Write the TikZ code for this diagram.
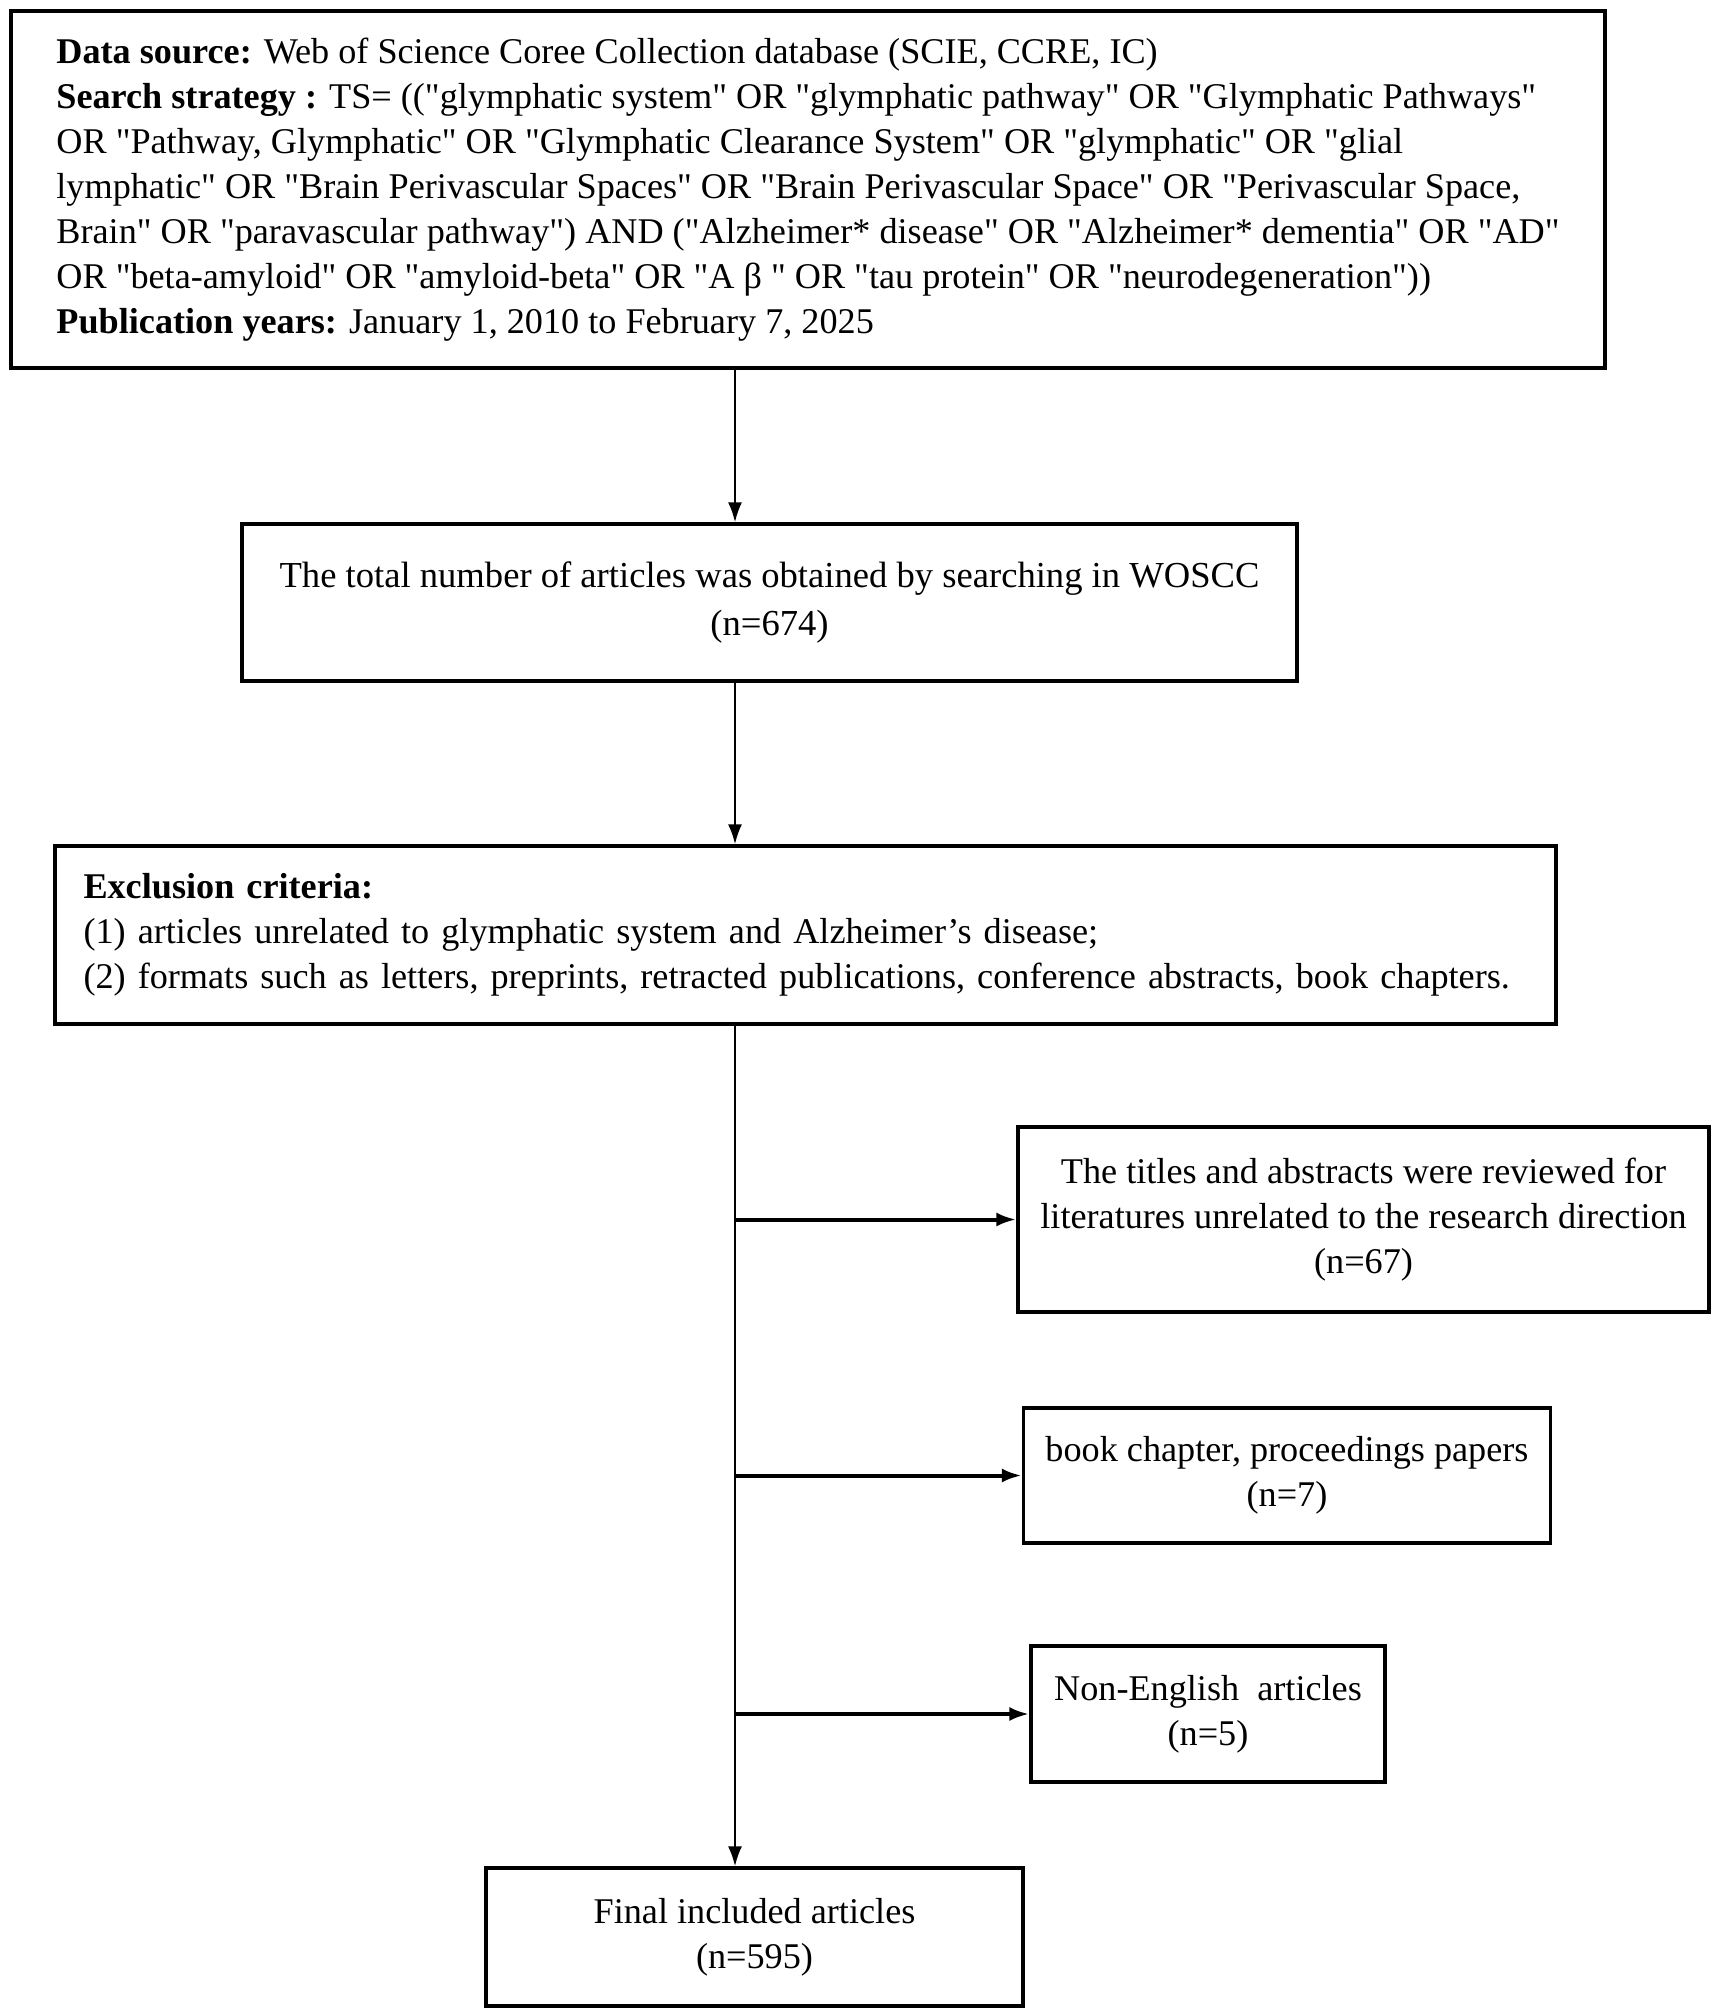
\documentclass[tikz,border=0pt]{standalone}
\usepackage{fontspec}
\setmainfont{Liberation Serif}[Ligatures=TeXOff]
\usetikzlibrary{calc, positioning, arrows.meta}
\tikzset{
box/.style={draw, line width=1.6pt, align=center, inner sep=0pt, font=\fontsize{18.1}{22.5}\selectfont},
flow/.style={->, line width=1.2pt},
branch/.style={->, line width=2pt},
>={Latex[length=10pt,width=7pt]},
}

\begin{document}
\begin{tikzpicture}[x=0.5pt, y=-0.5pt]
\useasboundingbox (0,0) rectangle (1713,2013);
% Nodes
\node (source) [box, align=left, minimum width=797pt, minimum height=178.5pt] at (808,189.5) {\textbf{Data source:} Web of Science Coree Collection database (SCIE, CCRE, IC)\\
\textbf{Search strategy :} TS= (("glymphatic system" OR "glymphatic pathway" OR "Glymphatic Pathways"\\
OR "Pathway, Glymphatic" OR "Glymphatic Clearance System" OR "glymphatic" OR "glial\\
lymphatic" OR "Brain Perivascular Spaces" OR "Brain Perivascular Space" OR "Perivascular Space,\\
Brain" OR "paravascular pathway") AND ("Alzheimer* disease" OR "Alzheimer* dementia" OR "AD"\\
OR "beta-amyloid" OR "amyloid-beta" OR "A β " OR "tau protein" OR "neurodegeneration"))\\
\textbf{Publication years:} January 1, 2010 to February 7, 2025};
\node (total) [box, minimum width=527.5pt, minimum height=78.5pt, font=\fontsize{18.3}{24}\selectfont] at (769.5,602.5) {The total number of articles was obtained by searching in WOSCC\\(n=674)};
\node (exclude) [box, align=left, text width=722pt, minimum width=750.5pt, minimum height=89pt] at (805.5,935) {\textbf{Exclusion criteria:}\\
(1) articles unrelated to glymphatic system and Alzheimer’s disease;\\
(2) formats such as letters, preprints, retracted publications, conference abstracts, book chapters.};
\node (titles) [box, minimum width=345.5pt, minimum height=92.5pt] at (1363.5,1219.5) {The titles and abstracts were reviewed for\\literatures unrelated to the research direction\\(n=67)};
\node (book) [box, minimum width=263.5pt, minimum height=67.5pt] at (1287,1475.5) {book chapter, proceedings papers\\(n=7)};
\node (nonenglish) [box, minimum width=177pt, minimum height=68pt] at (1208,1714) {Non-English~ articles\\(n=5)};
\node (final) [box, minimum width=268.5pt, minimum height=69pt] at (754.5,1937) {Final included articles\\(n=595)};
\coordinate (spine) at (735,0);

% Connectors
\draw [flow] (source.south -| spine) -- (total.north -| spine);
\draw [flow] (total.south -| spine) -- (exclude.north -| spine);
\draw [flow] (exclude.south -| spine) -- (final.north -| spine);
\draw [branch] (spine |- titles.west) -- (titles.west);
\draw [branch] (spine |- book.west) -- (book.west);
\draw [branch] (spine |- nonenglish.west) -- (nonenglish.west);

\end{tikzpicture}
\end{document}
